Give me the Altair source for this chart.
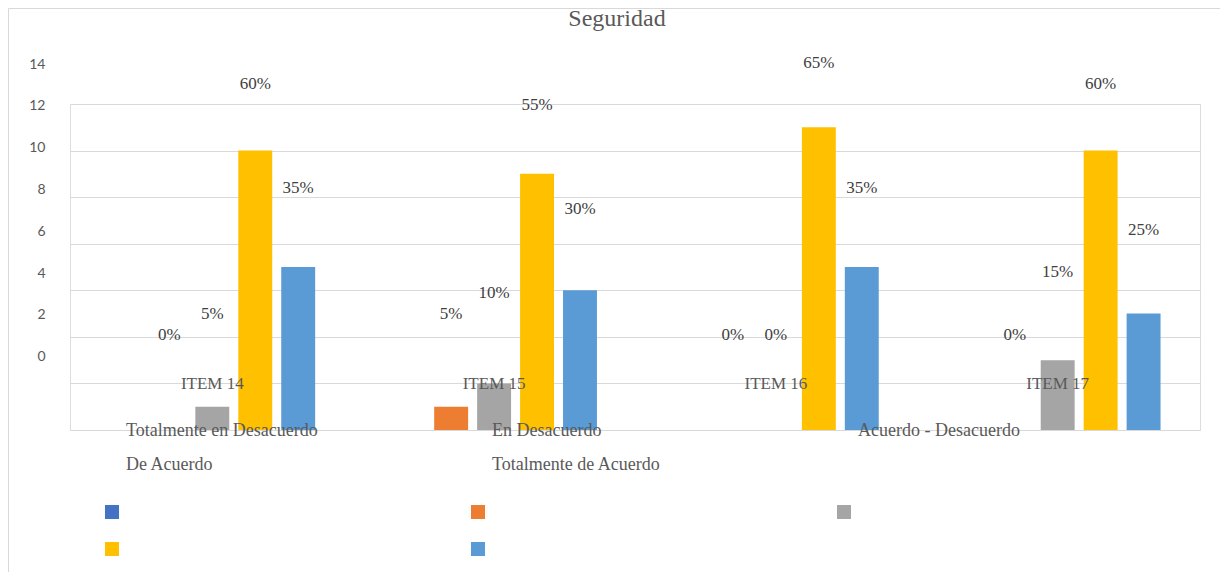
import altair as alt
import pandas as pd

# ---- data ----
items = ["ITEM 14", "ITEM 15", "ITEM 16", "ITEM 17"]
series_names = [
    "Totalmente en Desacuerdo",
    "En Desacuerdo",
    "Acuerdo - Desacuerdo",
    "De Acuerdo",
    "Totalmente de Acuerdo",
]
totalmente_desacuerdo = [0, 0, 0, 0]
en_desacuerdo = [0, 1, 0, 0]
acuerdo_desacuerdo = [1, 2, 0, 3]
de_acuerdo = [12, 11, 13, 12]
totalmente_acuerdo = [7, 6, 7, 5]
series_colors = ["#4472C4", "#ED7D31", "#A5A5A5", "#FFC000", "#5B9BD5"]
y_ticks = [0, 2, 4, 6, 8, 10, 12, 14]

values_by_series = [totalmente_desacuerdo, en_desacuerdo, acuerdo_desacuerdo,
                    de_acuerdo, totalmente_acuerdo]
rows = []
for s, vals in zip(series_names, values_by_series):
    for it, v in zip(items, vals):
        rows.append({"item": it, "serie": s, "valor": v})
df = pd.DataFrame(rows)

W, H = 1130, 326
PAD = {"left": 62, "top": 96, "right": 20, "bottom": 142}
GRID = "#D9D9D9"
TXT = "#595959"

base = alt.Chart(df)

x_enc = alt.X(
    "item:N", sort=items,
    scale=alt.Scale(paddingInner=0.27, paddingOuter=0.14),
    axis=alt.Axis(title=None, orient="bottom", domain=False, ticks=False, tickSize=0,
                  labelPadding=-47, labelBaseline="middle", labelAngle=0, zindex=1,
                  labelFont="Liberation Serif", labelFontSize=17, labelColor=TXT),
)
xoff = alt.XOffset("serie:N", sort=series_names,
                   scale=alt.Scale(domain=series_names, paddingInner=0.21, paddingOuter=0))

bars = base.mark_bar().encode(
    x=x_enc,
    xOffset=xoff,
    y=alt.Y("valor:Q",
            scale=alt.Scale(domain=[0, 14], nice=False),
            axis=alt.Axis(title=None, values=y_ticks, labels=False, ticks=False,
                          domain=False, grid=True, gridColor=GRID, gridWidth=1)),
    color=alt.Color(
        "serie:N", sort=series_names,
        scale=alt.Scale(domain=series_names, range=series_colors),
        legend=alt.Legend(orient="none", legendX=35, legendY=401, columns=3,
                          direction="horizontal",
                          gridAlign="all", columnPadding=352, rowPadding=23,
                          title=None, symbolType="square", symbolSize=196,
                          symbolStrokeWidth=0, labelExpr="''", labelFontSize=1,
                          labelOffset=0, padding=0),
    ),
)

labels = (
    base.transform_joinaggregate(total="sum(valor)", groupby=["item"])
    .transform_calculate(pct="datum.valor / datum.total")
    .transform_filter(alt.datum.serie != series_names[0])
    .mark_text(font="Liberation Serif", fontSize=17, color="#404040",
               dy=-22, baseline="middle")
    .encode(
        x=x_enc,
        xOffset=xoff,
        y=alt.Y("valor:Q",
                scale=alt.Scale(domain=[0, 14], range=[252.7, -40], nice=False),
                axis=alt.Axis(title=None, orient="left", values=y_ticks, grid=False,
                              ticks=False, domain=False, labelPadding=25,
                              labelFont="Lato", labelFontSize=14, labelColor=TXT)),
        text=alt.Text("pct:Q", format=".0%"),
    )
)

# legend texts, kept as a separate legend (own field so it is not merged)
legend_labels = (
    base.transform_calculate(etiqueta="datum.serie")
    .mark_point(opacity=0)
    .encode(
        shape=alt.Shape(
            "etiqueta:N", sort=series_names,
            legend=alt.Legend(orient="none", legendX=38, legendY=318, columns=3,
                              direction="horizontal",
                              gridAlign="all", columnPadding=156, rowPadding=16,
                              title=None, symbolSize=0, symbolOpacity=0,
                              symbolStrokeWidth=0, labelOffset=0,
                              labelFont="Liberation Serif", labelFontSize=18,
                              labelColor=TXT, labelLimit=500, padding=0),
        )
    )
)

frame = pd.DataFrame({"k": [0]})
border_left = alt.Chart(frame).mark_rule(color=GRID, strokeWidth=1).encode(
    x=alt.value(-61.5), y=alt.value(-95.5), y2=alt.value(H + PAD["bottom"]))
border_top = alt.Chart(frame).mark_rule(color=GRID, strokeWidth=1).encode(
    x=alt.value(-61.5), x2=alt.value(W + PAD["right"]), y=alt.value(-95.5))

chart = (
    alt.layer(border_left, border_top, bars, labels, legend_labels)
    .resolve_scale(y="independent")
    .resolve_legend(color="independent", shape="independent")
    .properties(
        width=W, height=H, padding=PAD,
        autosize=alt.AutoSizeParams(type="none"),
        title=alt.TitleParams("Seguridad", font="Liberation Serif", fontSize=24,
                              fontWeight="normal", color=TXT, anchor="middle",
                              dx=-18, dy=33, offset=10),
    )
    .configure_view(stroke=None)
    .configure(background="white")
)

chart.save("out.html", embed_options={"renderer": "svg", "actions": False})
